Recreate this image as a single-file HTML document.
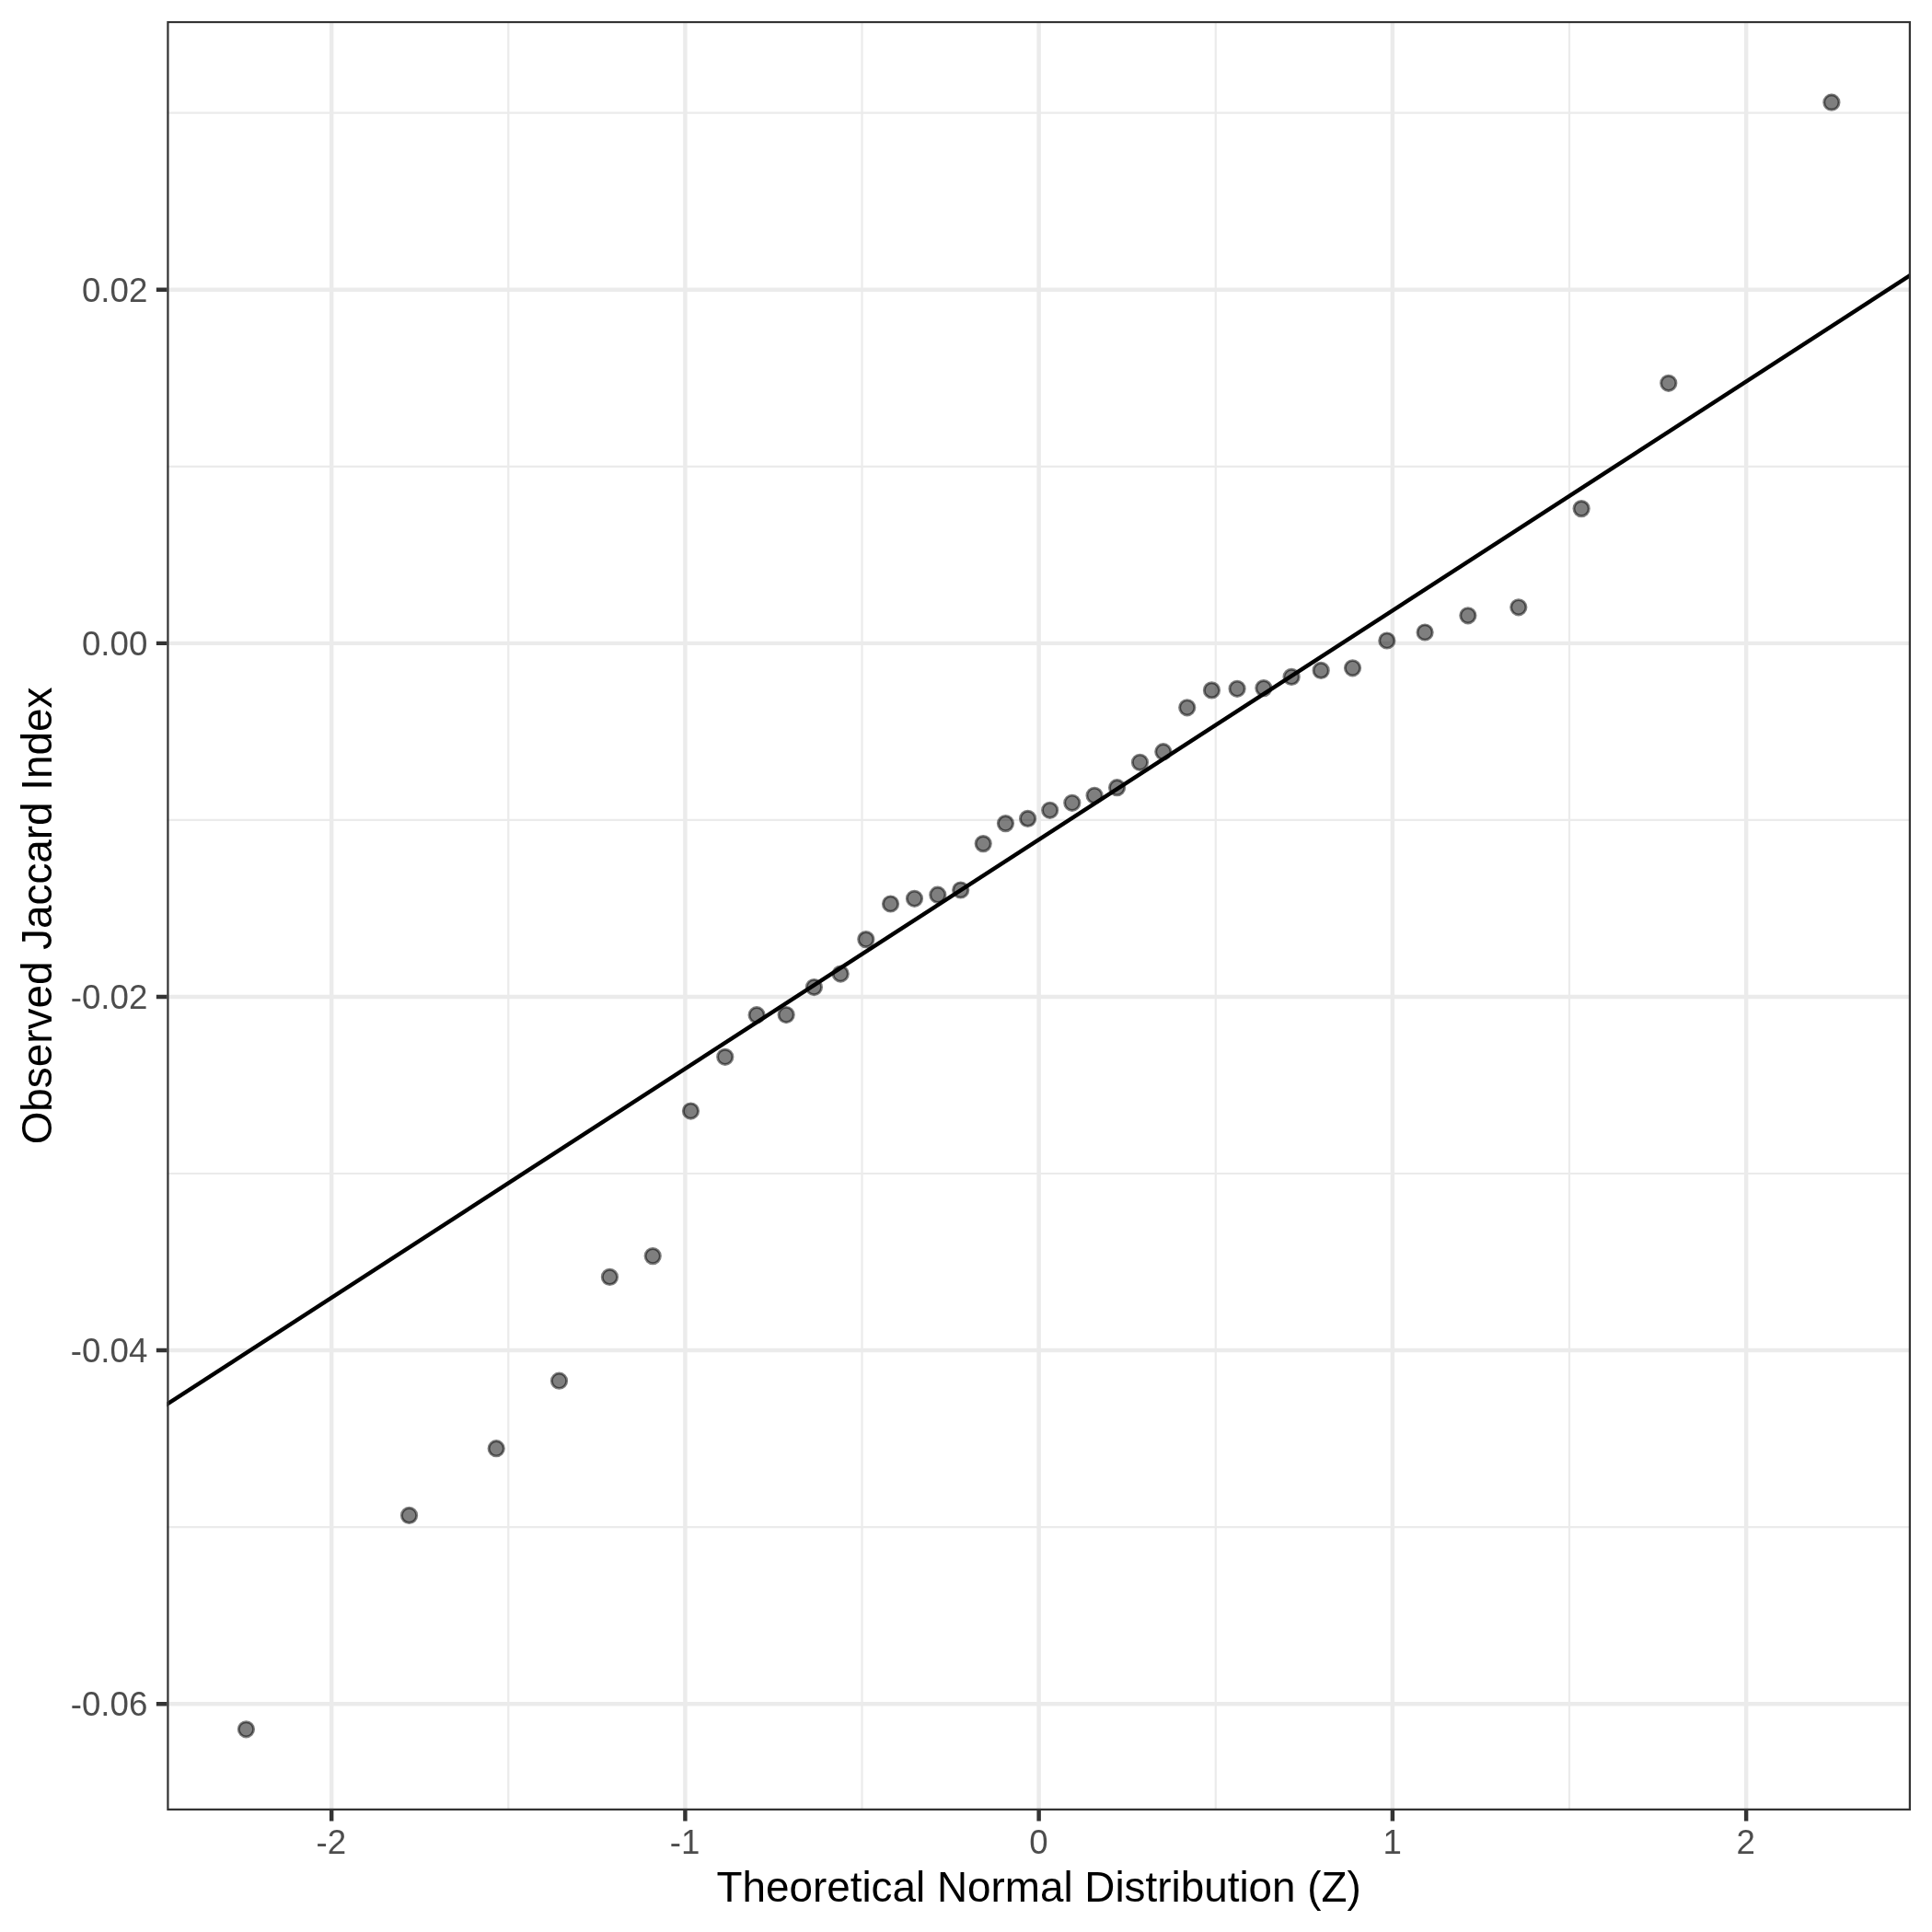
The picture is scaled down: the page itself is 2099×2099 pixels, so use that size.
<!DOCTYPE html><html><head><meta charset="utf-8"><style>html,body{margin:0;padding:0;background:#fff}svg{display:block;will-change:transform}text{font-family:"Liberation Sans",sans-serif}</style></head><body>
<svg width="2099" height="2099" viewBox="0 0 2099 2099">
<rect width="2099" height="2099" fill="#fff"/>
<defs><clipPath id="p"><rect x="181.3" y="22.9" width="1894.7" height="1944.1"/></clipPath></defs>
<g clip-path="url(#p)">
<path d="M181.3 1659.10H2076.0M181.3 1275.00H2076.0M181.3 890.90H2076.0M181.3 506.80H2076.0M181.3 122.70H2076.0M552.30 22.9V1967.0M936.53 22.9V1967.0M1320.77 22.9V1967.0M1705.00 22.9V1967.0" stroke="#EBEBEB" stroke-width="2.22" fill="none"/>
<path d="M181.3 1851.15H2076.0M181.3 1467.05H2076.0M181.3 1082.95H2076.0M181.3 698.85H2076.0M181.3 314.75H2076.0M360.18 22.9V1967.0M744.41 22.9V1967.0M1128.65 22.9V1967.0M1512.89 22.9V1967.0M1897.12 22.9V1967.0" stroke="#EBEBEB" stroke-width="4.45" fill="none"/>
<circle cx="267.42" cy="1878.80" r="8.15" fill="#000" fill-opacity="0.5" stroke="#000" stroke-opacity="0.5" stroke-width="2.95"/>
<circle cx="444.53" cy="1646.40" r="8.15" fill="#000" fill-opacity="0.5" stroke="#000" stroke-opacity="0.5" stroke-width="2.95"/>
<circle cx="539.19" cy="1573.70" r="8.15" fill="#000" fill-opacity="0.5" stroke="#000" stroke-opacity="0.5" stroke-width="2.95"/>
<circle cx="607.51" cy="1500.20" r="8.15" fill="#000" fill-opacity="0.5" stroke="#000" stroke-opacity="0.5" stroke-width="2.95"/>
<circle cx="662.44" cy="1387.40" r="8.15" fill="#000" fill-opacity="0.5" stroke="#000" stroke-opacity="0.5" stroke-width="2.95"/>
<circle cx="709.21" cy="1364.60" r="8.15" fill="#000" fill-opacity="0.5" stroke="#000" stroke-opacity="0.5" stroke-width="2.95"/>
<circle cx="750.47" cy="1207.00" r="8.15" fill="#000" fill-opacity="0.5" stroke="#000" stroke-opacity="0.5" stroke-width="2.95"/>
<circle cx="787.78" cy="1148.30" r="8.15" fill="#000" fill-opacity="0.5" stroke="#000" stroke-opacity="0.5" stroke-width="2.95"/>
<circle cx="822.12" cy="1102.70" r="8.15" fill="#000" fill-opacity="0.5" stroke="#000" stroke-opacity="0.5" stroke-width="2.95"/>
<circle cx="854.16" cy="1102.50" r="8.15" fill="#000" fill-opacity="0.5" stroke="#000" stroke-opacity="0.5" stroke-width="2.95"/>
<circle cx="884.41" cy="1072.50" r="8.15" fill="#000" fill-opacity="0.5" stroke="#000" stroke-opacity="0.5" stroke-width="2.95"/>
<circle cx="913.21" cy="1058.00" r="8.15" fill="#000" fill-opacity="0.5" stroke="#000" stroke-opacity="0.5" stroke-width="2.95"/>
<circle cx="940.84" cy="1020.60" r="8.15" fill="#000" fill-opacity="0.5" stroke="#000" stroke-opacity="0.5" stroke-width="2.95"/>
<circle cx="967.54" cy="982.00" r="8.15" fill="#000" fill-opacity="0.5" stroke="#000" stroke-opacity="0.5" stroke-width="2.95"/>
<circle cx="993.48" cy="976.30" r="8.15" fill="#000" fill-opacity="0.5" stroke="#000" stroke-opacity="0.5" stroke-width="2.95"/>
<circle cx="1018.82" cy="972.20" r="8.15" fill="#000" fill-opacity="0.5" stroke="#000" stroke-opacity="0.5" stroke-width="2.95"/>
<circle cx="1043.69" cy="967.00" r="8.15" fill="#000" fill-opacity="0.5" stroke="#000" stroke-opacity="0.5" stroke-width="2.95"/>
<circle cx="1068.21" cy="916.60" r="8.15" fill="#000" fill-opacity="0.5" stroke="#000" stroke-opacity="0.5" stroke-width="2.95"/>
<circle cx="1092.48" cy="894.60" r="8.15" fill="#000" fill-opacity="0.5" stroke="#000" stroke-opacity="0.5" stroke-width="2.95"/>
<circle cx="1116.61" cy="889.40" r="8.15" fill="#000" fill-opacity="0.5" stroke="#000" stroke-opacity="0.5" stroke-width="2.95"/>
<circle cx="1140.69" cy="880.30" r="8.15" fill="#000" fill-opacity="0.5" stroke="#000" stroke-opacity="0.5" stroke-width="2.95"/>
<circle cx="1164.82" cy="872.30" r="8.15" fill="#000" fill-opacity="0.5" stroke="#000" stroke-opacity="0.5" stroke-width="2.95"/>
<circle cx="1189.09" cy="864.30" r="8.15" fill="#000" fill-opacity="0.5" stroke="#000" stroke-opacity="0.5" stroke-width="2.95"/>
<circle cx="1213.61" cy="855.70" r="8.15" fill="#000" fill-opacity="0.5" stroke="#000" stroke-opacity="0.5" stroke-width="2.95"/>
<circle cx="1238.48" cy="828.30" r="8.15" fill="#000" fill-opacity="0.5" stroke="#000" stroke-opacity="0.5" stroke-width="2.95"/>
<circle cx="1263.82" cy="816.70" r="8.15" fill="#000" fill-opacity="0.5" stroke="#000" stroke-opacity="0.5" stroke-width="2.95"/>
<circle cx="1289.76" cy="768.80" r="8.15" fill="#000" fill-opacity="0.5" stroke="#000" stroke-opacity="0.5" stroke-width="2.95"/>
<circle cx="1316.46" cy="749.90" r="8.15" fill="#000" fill-opacity="0.5" stroke="#000" stroke-opacity="0.5" stroke-width="2.95"/>
<circle cx="1344.09" cy="748.30" r="8.15" fill="#000" fill-opacity="0.5" stroke="#000" stroke-opacity="0.5" stroke-width="2.95"/>
<circle cx="1372.89" cy="747.60" r="8.15" fill="#000" fill-opacity="0.5" stroke="#000" stroke-opacity="0.5" stroke-width="2.95"/>
<circle cx="1403.14" cy="735.40" r="8.15" fill="#000" fill-opacity="0.5" stroke="#000" stroke-opacity="0.5" stroke-width="2.95"/>
<circle cx="1435.18" cy="728.40" r="8.15" fill="#000" fill-opacity="0.5" stroke="#000" stroke-opacity="0.5" stroke-width="2.95"/>
<circle cx="1469.52" cy="725.80" r="8.15" fill="#000" fill-opacity="0.5" stroke="#000" stroke-opacity="0.5" stroke-width="2.95"/>
<circle cx="1506.83" cy="696.00" r="8.15" fill="#000" fill-opacity="0.5" stroke="#000" stroke-opacity="0.5" stroke-width="2.95"/>
<circle cx="1548.09" cy="687.00" r="8.15" fill="#000" fill-opacity="0.5" stroke="#000" stroke-opacity="0.5" stroke-width="2.95"/>
<circle cx="1594.86" cy="668.80" r="8.15" fill="#000" fill-opacity="0.5" stroke="#000" stroke-opacity="0.5" stroke-width="2.95"/>
<circle cx="1649.79" cy="659.80" r="8.15" fill="#000" fill-opacity="0.5" stroke="#000" stroke-opacity="0.5" stroke-width="2.95"/>
<circle cx="1718.11" cy="552.60" r="8.15" fill="#000" fill-opacity="0.5" stroke="#000" stroke-opacity="0.5" stroke-width="2.95"/>
<circle cx="1812.77" cy="416.30" r="8.15" fill="#000" fill-opacity="0.5" stroke="#000" stroke-opacity="0.5" stroke-width="2.95"/>
<circle cx="1989.88" cy="111.20" r="8.15" fill="#000" fill-opacity="0.5" stroke="#000" stroke-opacity="0.5" stroke-width="2.95"/>
<path d="M171.3 1532.13L2086.0 292.17" stroke="#000" stroke-width="4.45" fill="none"/>
<rect x="181.3" y="22.9" width="1894.7" height="1944.1" fill="none" stroke="#333333" stroke-width="4.45"/>
</g>
<path d="M169.84 1851.15H181.3M169.84 1467.05H181.3M169.84 1082.95H181.3M169.84 698.85H181.3M169.84 314.75H181.3M360.18 1967.0V1978.46M744.41 1967.0V1978.46M1128.65 1967.0V1978.46M1512.89 1967.0V1978.46M1897.12 1967.0V1978.46" stroke="#333333" stroke-width="4.45" fill="none"/>
<text x="160.3" y="1864.00" font-size="36.67" fill="#4D4D4D" text-anchor="end">-0.06</text>
<text x="160.3" y="1480.00" font-size="36.67" fill="#4D4D4D" text-anchor="end">-0.04</text>
<text x="160.3" y="1096.00" font-size="36.67" fill="#4D4D4D" text-anchor="end">-0.02</text>
<text x="160.3" y="712.00" font-size="36.67" fill="#4D4D4D" text-anchor="end">0.00</text>
<text x="160.3" y="328.00" font-size="36.67" fill="#4D4D4D" text-anchor="end">0.02</text>
<text x="359.88" y="2014.2" font-size="36.67" fill="#4D4D4D" text-anchor="middle">-2</text>
<text x="744.11" y="2014.2" font-size="36.67" fill="#4D4D4D" text-anchor="middle">-1</text>
<text x="1128.35" y="2014.2" font-size="36.67" fill="#4D4D4D" text-anchor="middle">0</text>
<text x="1512.59" y="2014.2" font-size="36.67" fill="#4D4D4D" text-anchor="middle">1</text>
<text x="1896.82" y="2014.2" font-size="36.67" fill="#4D4D4D" text-anchor="middle">2</text>
<text x="1128.65" y="2065.5" font-size="45.83" fill="#000" text-anchor="middle">Theoretical Normal Distribution (Z)</text>
<text transform="translate(56.1 994.95) rotate(-90)" font-size="45.83" fill="#000" text-anchor="middle">Observed Jaccard Index</text>
</svg></body></html>
